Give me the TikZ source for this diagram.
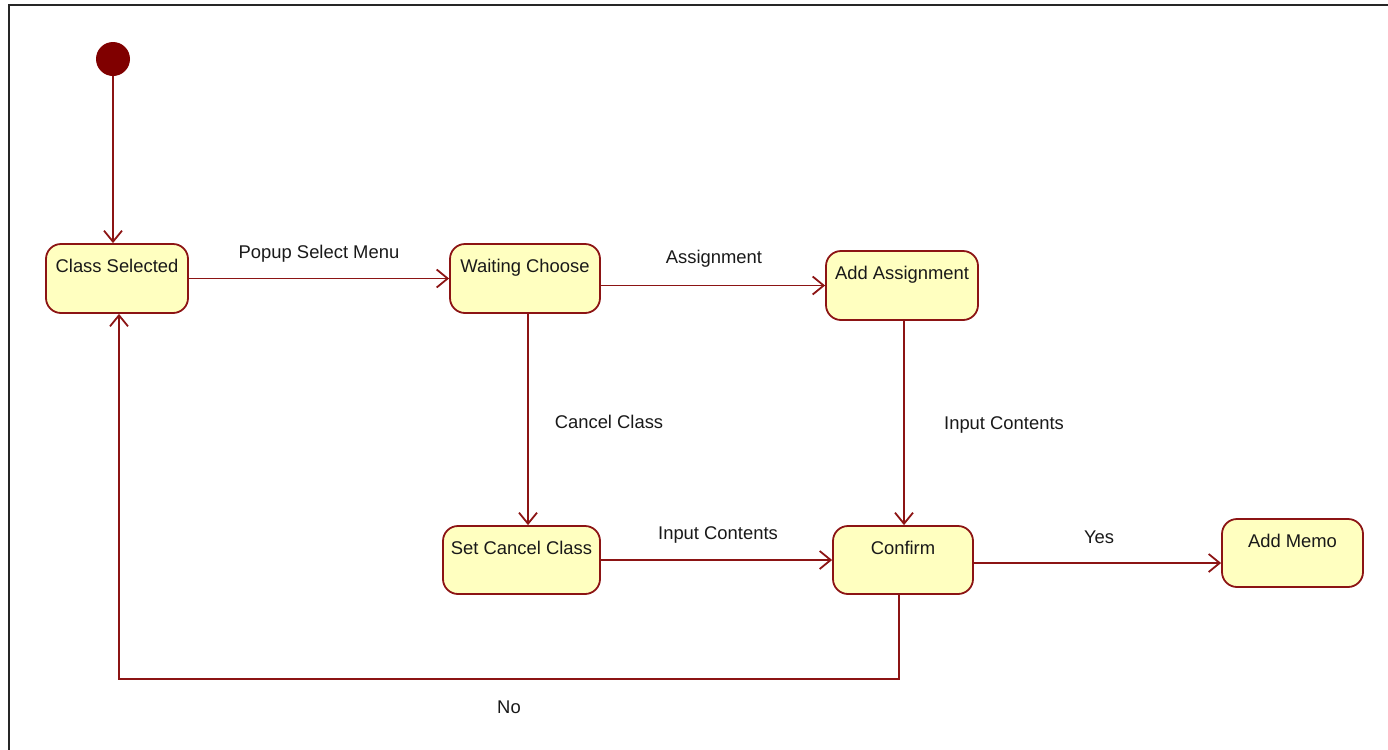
\documentclass[tikz,border=0pt]{standalone}
\usepackage{fontspec}
\setmainfont{Liberation Sans}
\usetikzlibrary{arrows.meta}
\definecolor{maroon}{RGB}{128,0,0}
\definecolor{linered}{RGB}{140,20,20}
\definecolor{stfill}{RGB}{255,255,192}
\tikzset{
  statebox/.style={draw=linered, line width=0.9pt, fill=stfill, rounded corners=7.5pt,
    inner ysep=0pt, inner xsep=2pt, text height=14pt, text depth=20.5pt,
    minimum height=34.5pt, font=\fontsize{9.2pt}{11pt}\selectfont, text=black!90},
  conn/.style={draw=linered, line width=0.9pt, -{Straight Barb[length=5.5pt,width=9pt,line width=0.9pt]}},
  lbl/.style={font=\fontsize{9.2pt}{11pt}\selectfont, text=black!90, inner sep=0pt}
}
\begin{document}
\begin{tikzpicture}[x=0.5pt,y=-0.5pt]
\useasboundingbox (0,0) rectangle (1388,750);
\draw[line width=1pt, black!85] (9,750) -- (9,5) -- (1388,5);

\node[circle, fill=maroon, minimum size=17pt, inner sep=0pt] (init) at (113,59) {};

\node[statebox, minimum width=71pt] (cs) at (117,278.5) {Class Selected};
\node[statebox, minimum width=75pt] (wc) at (525,278.5) {Waiting Choose};
\node[statebox, minimum width=76pt] (aa) at (902,285.5) {Add Assignment};
\node[statebox, minimum width=78.5pt, minimum height=34pt, text depth=20pt] (scc) at (521.5,560) {Set Cancel Class};
\node[statebox, minimum width=70pt, minimum height=34pt, text depth=20pt] (cf) at (903,560) {Confirm};
\node[statebox, minimum width=70.5pt, minimum height=34pt, text depth=20pt] (am) at (1292.5,553) {Add Memo};

\draw[conn] (init) -- (init |- cs.north);
\draw[conn] (cs.east) -- (wc.west);
\draw[conn] (wc.east |- aa.west) -- (aa.west);
\draw[conn] ([xshift=1.5pt]wc.south) -- ([xshift=1.5pt]wc.south |- scc.north);
\draw[conn] ([xshift=1pt]aa.south) -- ([xshift=1pt]aa.south |- cf.north);
\draw[conn] (scc.east) -- (cf.west);
\draw[conn] ([yshift=-1.5pt]cf.east) -- ([yshift=-1.5pt]cf.east -| am.west);
\draw[conn] ([xshift=-2pt]cf.south) -- ++(0,84) -| ([xshift=1pt]cs.south);

\node[lbl] (l1) at (319,254) {Popup Select Menu};
\node[lbl] (l2) at (714,259) {Assignment};
\node[lbl] (l3) at (609,422) {Cancel Class};
\node[lbl] (l4) at (1004,425) {Input Contents};
\node[lbl] (l5) at (718,535) {Input Contents};
\node[lbl] (l6) at (1099,537) {Yes};
\node[lbl] (l7) at (509,707) {No};
\end{tikzpicture}
\end{document}
